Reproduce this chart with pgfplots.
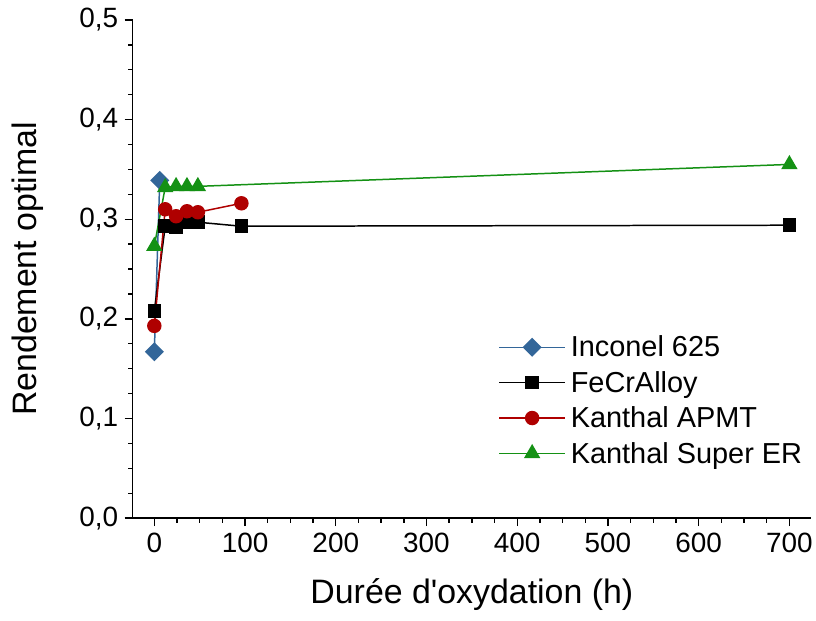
\documentclass[border=0pt]{standalone}
\usepackage{fontspec}
\setmainfont{Liberation Sans}
\usepackage{pgfplots}
\pgfplotsset{compat=1.18}
\definecolor{cblue}{RGB}{51,102,153}
\definecolor{cred}{RGB}{175,0,0}
\definecolor{cgreen}{RGB}{20,145,20}
\begin{document}
\begin{tikzpicture}
\begin{axis}[
  name=ax,
  scale only axis,
  width=681pt, height=500pt,
  xmin=-24, xmax=724,
  ymin=0, ymax=0.5,
  axis x line=bottom, axis y line=left,
  axis line style={line width=1.6pt, -},
  xtick={0,100,...,700},
  ytick={0,0.1,0.2,0.3,0.4,0.5},
  minor x tick num=3, minor y tick num=3,
  tick align=outside,
  major tick length=8pt, minor tick length=4.5pt,
  every tick/.style={line width=1.4pt, black},
  /pgf/number format/assume math mode=true,
  yticklabel style={/pgf/number format/use comma, /pgf/number format/fixed, /pgf/number format/fixed zerofill, /pgf/number format/precision=1, xshift=-3pt},
  xticklabel style={/pgf/number format/fixed, yshift=-3pt},
  tick label style={font=\fontsize{28}{30}\selectfont},
  label style={font=\fontsize{34}{38}\selectfont},
  xlabel={Durée d\textquotesingle oxydation (h)},
  ylabel={Rendement optimal},
  xlabel style={at={(axis description cs:0.5,0)}, anchor=base, yshift=-86pt},
  ylabel style={at={(axis description cs:-0.141,0.5)}, anchor=base},
  legend style={draw=none, fill=none, at={(rel axis cs:0.539,0.37)}, anchor=north west,
    font=\fontsize{29}{33}\selectfont, row sep=9pt, inner sep=0pt, nodes={inner xsep=5pt}},
  legend cell align=left,
  legend image code/.code={\draw[mark repeat=2,mark phase=2] plot coordinates {(0pt,0pt) (33pt,0pt) (66pt,0pt)};},
  clip=false,
]
\addplot[cblue, line width=1.5pt, mark=square*, mark size=6pt, mark options={rotate=45, fill=cblue}]
  coordinates {(0,0.167) (6,0.339)};
\addlegendentry{Inconel 625}
\addplot[black, line width=1.5pt, mark=square*, mark size=6pt, mark options={fill=black}]
  coordinates {(0,0.208) (12,0.293) (24,0.292) (36,0.297) (48,0.297) (96,0.293) (700,0.294)};
\addlegendentry{FeCrAlloy}
\addplot[cred, line width=1.5pt, mark=*, mark size=6.5pt, mark options={fill=cred}]
  coordinates {(0,0.193) (12,0.310) (24,0.303) (36,0.308) (48,0.307) (96,0.316)};
\addlegendentry{Kanthal APMT}
\addplot[cgreen, line width=1.5pt, mark=triangle*, mark size=8pt, mark options={fill=cgreen}]
  coordinates {(0,0.273) (12,0.332) (24,0.333) (36,0.333) (48,0.333) (700,0.355)};
\addlegendentry{Kanthal Super ER}
\end{axis}
\path (ax.south west) ++(-133pt,-103pt) rectangle ++(816pt,623pt);
\end{tikzpicture}
\end{document}
